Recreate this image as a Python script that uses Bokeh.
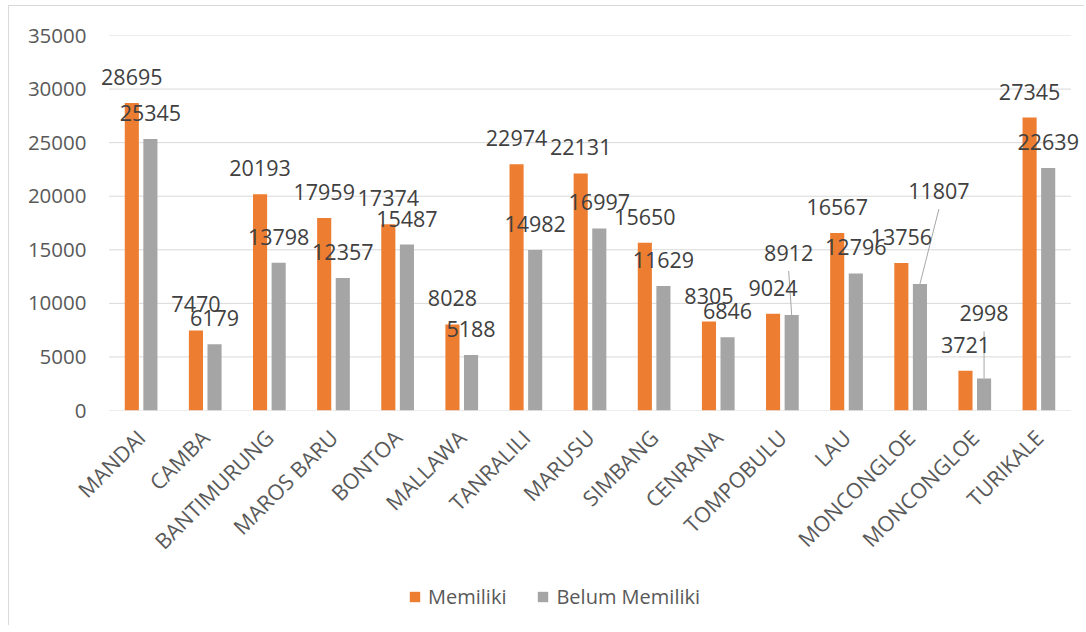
import math
from bokeh.plotting import figure
from bokeh.layouts import column
from bokeh.models import (ColumnDataSource, LabelSet, FixedTicker, Range1d,
                          Legend, LegendItem)
from bokeh.core.properties import value
from bokeh.embed import file_html
from bokeh.resources import INLINE

# ---------------- data ----------------
categories = ["MANDAI", "CAMBA", "BANTIMURUNG", "MAROS BARU", "BONTOA", "MALLAWA",
              "TANRALILI", "MARUSU", "SIMBANG", "CENRANA", "TOMPOBULU", "LAU",
              "MONCONGLOE", "MONCONGLOE", "TURIKALE"]
memiliki = [28695, 7470, 20193, 17959, 17374, 8028, 22974, 22131, 15650, 8305,
            9024, 16567, 13756, 3721, 27345]
belum_memiliki = [25345, 6179, 13798, 12357, 15487, 5188, 14982, 16997, 11629, 6846,
                  8912, 12796, 11807, 2998, 22639]
y_ticks = [0, 5000, 10000, 15000, 20000, 25000, 30000, 35000]
series_names = ["Memiliki", "Belum Memiliki"]

# ---------------- layout / style ----------------
N = len(categories)
CAT_PX = 962 / N            # pixel width of one category
PAD = 0.18                  # extra room so data labels are not clipped
FRAME_W = round((N + 2 * PAD) * CAT_PX)
FRAME_H = 375
B_LEFT, B_TOP, B_BOTTOM = 88, 29, 165
W = 1075
B_RIGHT = W - B_LEFT - FRAME_W
H_MAIN = B_TOP + FRAME_H + B_BOTTOM
H_LEG = 50
Y_MAX = y_ticks[-1]
OFFSET = 0.145
BAR_W = 0.22
LABEL_GAP = 18
ORANGE = "#ED7D31"
GRAY = "#A5A5A5"
GRID = "#D9D9D9"
FONT = "Open Sans"
# manually moved data labels (Excel-style), pixels: (dx right, dy up)
belum_label_shift = {10: (-3, 36), 12: (19, 67), 13: (0, 39)}

xs = list(range(1, N + 1))
x_m = [x - OFFSET for x in xs]
x_b = [x + OFFSET for x in xs]

fig = figure(width=W, height=H_MAIN, output_backend="svg", toolbar_location=None,
             x_range=Range1d(0.5 - PAD, N + 0.5 + PAD), y_range=Range1d(0, Y_MAX),
             min_border_left=B_LEFT, min_border_right=B_RIGHT,
             min_border_top=B_TOP, min_border_bottom=B_BOTTOM)
fig.outline_line_color = None
fig.background_fill_color = "white"
fig.border_fill_color = "white"

# gridlines spanning the category area only
fig.segment(x0=[0.5] * len(y_ticks), x1=[N + 0.5] * len(y_ticks), y0=y_ticks, y1=y_ticks,
            line_color=GRID, line_width=1)

src_m = ColumnDataSource(dict(x=x_m, top=memiliki, text=[str(v) for v in memiliki]))
src_b = ColumnDataSource(dict(x=x_b, top=belum_memiliki, text=[str(v) for v in belum_memiliki]))

fig.vbar(x="x", top="top", width=BAR_W, source=src_m, fill_color=ORANGE, line_color=None)
fig.vbar(x="x", top="top", width=BAR_W, source=src_b, fill_color=GRAY, line_color=None)

# data labels
px_y = Y_MAX / FRAME_H
px_x = 1 / CAT_PX
lab_common = dict(text_align="center", text_baseline="alphabetic",
                  text_font=value(FONT), text_font_size="21.5px", text_color="#404040")
fig.add_layout(LabelSet(x="x", y="top", text="text", source=src_m, y_offset=LABEL_GAP, **lab_common))

xb_lab, yoff_b, seg = [], [], dict(x0=[], y0=[], x1=[], y1=[])
for i, (xv, v) in enumerate(zip(x_b, belum_memiliki)):
    dx, dy = belum_label_shift.get(i, (0, 0))
    xb_lab.append(xv + dx * px_x)
    yoff_b.append(LABEL_GAP + dy)
    if i in belum_label_shift:
        seg["x0"].append(xv)
        seg["y0"].append(v)
        seg["x1"].append(xv + dx * px_x)
        seg["y1"].append(v + (LABEL_GAP + dy - 10) * px_y)
src_bl = ColumnDataSource(dict(x=xb_lab, y=belum_memiliki, yo=yoff_b,
                               text=[str(v) for v in belum_memiliki]))
fig.add_layout(LabelSet(x="x", y="y", text="text", source=src_bl, y_offset="yo", **lab_common))
fig.segment(x0="x0", y0="y0", x1="x1", y1="y1", source=ColumnDataSource(seg),
            line_color="#A6A6A6", line_width=1)

# axes
fig.xaxis.ticker = FixedTicker(ticks=xs)
fig.xaxis.major_label_overrides = {x: c for x, c in zip(xs, categories)}
fig.xaxis.major_label_orientation = math.pi / 4
fig.xaxis.axis_line_color = None
fig.xaxis.major_tick_line_color = None
fig.xaxis.minor_tick_line_color = None
fig.xaxis.major_label_standoff = 17
fig.xaxis.major_label_text_font = FONT
fig.xaxis.major_label_text_font_size = "21.5px"
fig.xaxis.major_label_text_color = "#595959"

fig.yaxis.ticker = FixedTicker(ticks=y_ticks)
fig.yaxis.axis_line_color = None
fig.yaxis.major_tick_line_color = None
fig.yaxis.minor_tick_line_color = None
fig.yaxis.major_label_standoff = 5
fig.yaxis.major_label_text_font = FONT
fig.yaxis.major_label_text_font_size = "20.5px"
fig.yaxis.major_label_text_color = "#595959"

fig.xgrid.grid_line_color = None
fig.ygrid.grid_line_color = None

# ---------------- legend strip ----------------
leg_fig = figure(width=W, height=H_LEG, output_backend="svg", toolbar_location=None,
                 x_range=Range1d(0, 1), y_range=Range1d(0, 1),
                 x_axis_type=None, y_axis_type=None,
                 min_border_left=0, min_border_right=0, min_border_top=0, min_border_bottom=0)
leg_fig.outline_line_color = None
leg_fig.background_fill_color = "white"
leg_fig.border_fill_color = "white"
leg_fig.grid.visible = False
# swatch-only renderers (zero-height bars, nothing visible in the strip)
lr_m = leg_fig.vbar(x=[-10], top=[0], bottom=[0], width=0.001, fill_color=ORANGE, line_color=None)
lr_b = leg_fig.vbar(x=[-10], top=[0], bottom=[0], width=0.001, fill_color=GRAY, line_color=None)
legend = Legend(items=[LegendItem(label=series_names[0], renderers=[lr_m]),
                       LegendItem(label=series_names[1], renderers=[lr_b])],
                orientation="horizontal", location=(311, 15),
                padding=0, margin=0, spacing=30, label_standoff=7,
                glyph_width=13, glyph_height=13, label_height=20,
                border_line_color=None, background_fill_alpha=0,
                label_text_font=FONT, label_text_font_size="20px",
                label_text_color="#595959")
leg_fig.add_layout(legend, "center")

p = column(fig, leg_fig, spacing=0)
p.styles = {"border-left": "1px solid #D9D9D9", "border-top": "1px solid #D9D9D9",
            "margin-left": "8px", "margin-top": "5px"}

open("out.html", "w").write(file_html(p, INLINE))
